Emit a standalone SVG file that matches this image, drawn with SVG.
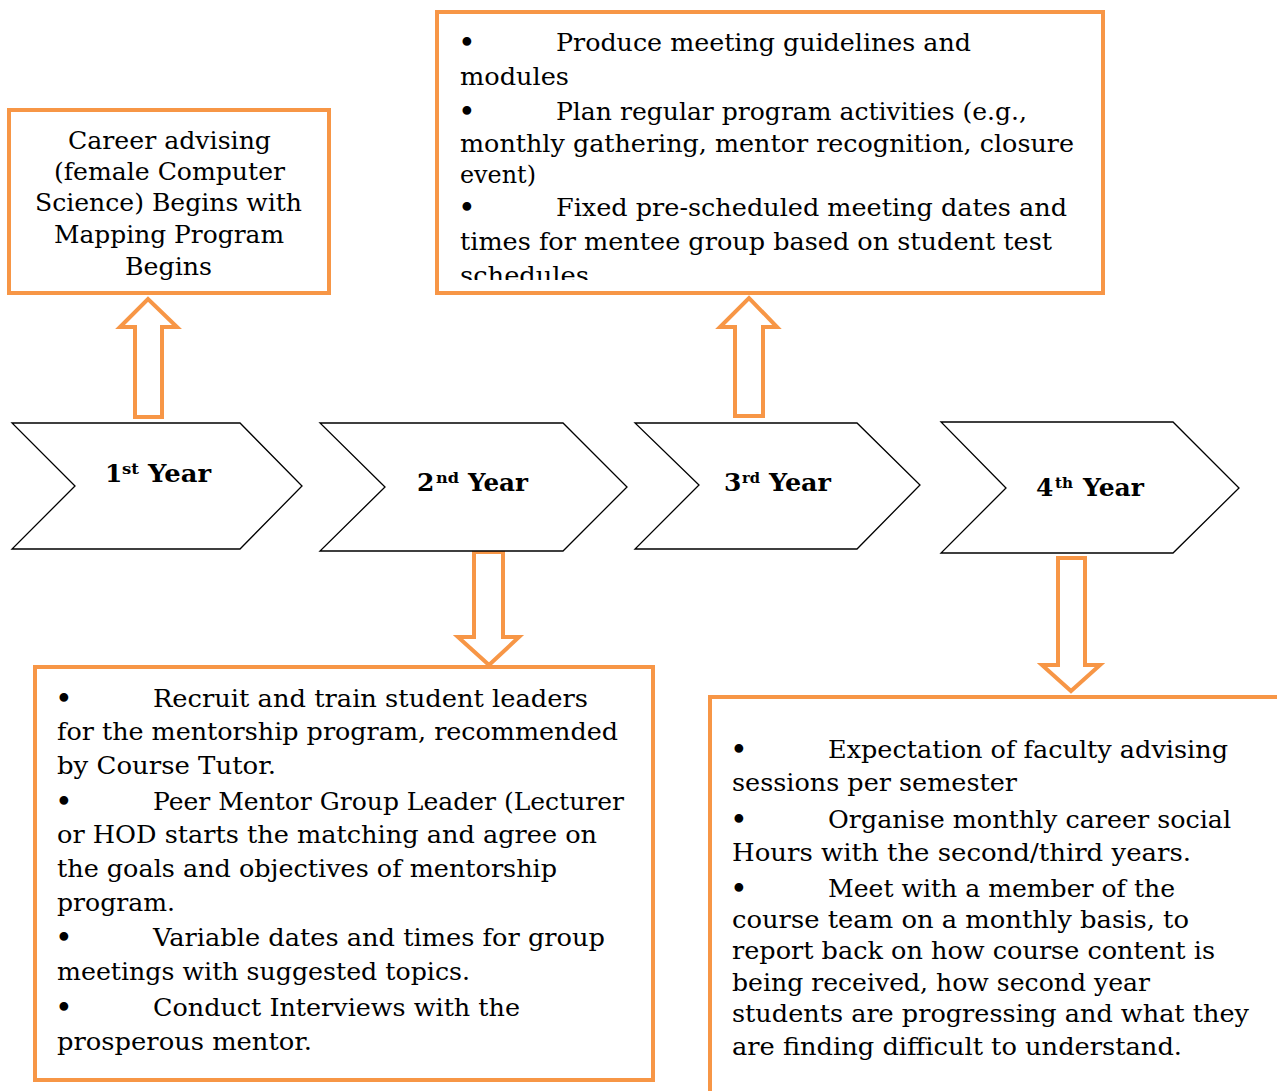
<svg xmlns="http://www.w3.org/2000/svg" width="1277" height="1091" viewBox="0 0 1277 1091">
<style>
.box{fill:#fff;stroke:#F79646;stroke-width:4}
.arr{fill:#fff;stroke:#F79646;stroke-width:4;stroke-linejoin:miter}
.chev{fill:#fff;stroke:#000;stroke-width:1.3}
.t{font-family:"DejaVu Serif","Liberation Serif",serif;font-size:24px;fill:#000}
.b{font-family:"DejaVu Serif","Liberation Serif",serif;font-size:30px;fill:#000}
.yr{font-family:"DejaVu Serif","Liberation Serif",serif;font-size:25px;font-weight:bold;fill:#000}
.sup{font-family:"DejaVu Serif","Liberation Serif",serif;font-size:15px;font-weight:bold;fill:#000}
</style>
<defs>
<clipPath id="c3"><rect x="437" y="12" width="666" height="268"/></clipPath>
</defs>
<rect width="1277" height="1091" fill="#fff"/>
<g id="connectors">
<path class="arr" d="M135,417 V327 H120 L148,299 L177,327 H162 V417 Z"/>
<path class="arr" d="M735,416 V327 H720 L749,298 L777,327 H763 V416 Z"/>
<path class="arr" d="M474,552 V637 H458 L489,665 L519,637 H503 V552 Z"/>
<path class="arr" d="M1058,558 V665 H1042 L1071,691 L1100,665 H1085 V558 Z"/>
</g>
<g id="year1">
<path class="chev" d="M12,423 H240 L302,486 L240,549 H12 L75,486 Z"/>
<text class="yr" x="105" y="482">1</text>
<text class="sup" x="122" y="474" textLength="17" lengthAdjust="spacingAndGlyphs">st</text>
<text class="yr" x="148" y="482" textLength="63" lengthAdjust="spacingAndGlyphs">Year</text>
</g>
<g id="year2">
<path class="chev" d="M320,423 H563 L627,487 L563,551 H320 L385,487 Z"/>
<text class="yr" x="417" y="491">2</text>
<text class="sup" x="436" y="483" textLength="23" lengthAdjust="spacingAndGlyphs">nd</text>
<text class="yr" x="468" y="491" textLength="60" lengthAdjust="spacingAndGlyphs">Year</text>
</g>
<g id="year3">
<path class="chev" d="M635,423 H857 L920,485 L857,549 H635 L699,485 Z"/>
<text class="yr" x="724" y="491">3</text>
<text class="sup" x="742" y="483" textLength="18" lengthAdjust="spacingAndGlyphs">rd</text>
<text class="yr" x="769" y="491" textLength="62" lengthAdjust="spacingAndGlyphs">Year</text>
</g>
<g id="year4">
<path class="chev" d="M941,422 H1173 L1239,488 L1173,553 H941 L1006,488 Z"/>
<text class="yr" x="1036" y="496">4</text>
<text class="sup" x="1055" y="488" textLength="18" lengthAdjust="spacingAndGlyphs">th</text>
<text class="yr" x="1083" y="496" textLength="61" lengthAdjust="spacingAndGlyphs">Year</text>
</g>
<g id="box1">
<rect class="box" x="9" y="110" width="320" height="183"/>
<text class="t" x="68" y="149" textLength="203" lengthAdjust="spacingAndGlyphs">Career advising</text>
<text class="t" x="54" y="180" textLength="231" lengthAdjust="spacingAndGlyphs">(female Computer</text>
<text class="t" x="35" y="211" textLength="267" lengthAdjust="spacingAndGlyphs">Science) Begins with</text>
<text class="t" x="54" y="243" textLength="230" lengthAdjust="spacingAndGlyphs">Mapping Program</text>
<text class="t" x="125" y="275" textLength="87" lengthAdjust="spacingAndGlyphs">Begins</text>
</g>
<g id="box3">
<rect class="box" x="437" y="12" width="666" height="281"/>
<g clip-path="url(#c3)">
<text class="b" x="458" y="53">•</text>
<text class="t" x="556" y="51" textLength="415" lengthAdjust="spacingAndGlyphs">Produce meeting guidelines and</text>
<text class="t" x="460" y="85" textLength="109" lengthAdjust="spacingAndGlyphs">modules</text>
<text class="b" x="458" y="122">•</text>
<text class="t" x="556" y="120" textLength="471" lengthAdjust="spacingAndGlyphs">Plan regular program activities (e.g.,</text>
<text class="t" x="460" y="152" textLength="614" lengthAdjust="spacingAndGlyphs">monthly gathering, mentor recognition, closure</text>
<text class="t" x="460" y="183" textLength="76" lengthAdjust="spacingAndGlyphs">event)</text>
<text class="b" x="458" y="218">•</text>
<text class="t" x="556" y="216" textLength="511" lengthAdjust="spacingAndGlyphs">Fixed pre-scheduled meeting dates and</text>
<text class="t" x="460" y="250" textLength="592" lengthAdjust="spacingAndGlyphs">times for mentee group based on student test</text>
<text class="t" x="460" y="284" textLength="129" lengthAdjust="spacingAndGlyphs">schedules</text>
</g>
</g>
<g id="box2">
<rect class="box" x="35" y="667" width="618" height="413"/>
<text class="b" x="55" y="709">•</text>
<text class="t" x="153" y="707" textLength="435" lengthAdjust="spacingAndGlyphs">Recruit and train student leaders</text>
<text class="t" x="57" y="740" textLength="561" lengthAdjust="spacingAndGlyphs">for the mentorship program, recommended</text>
<text class="t" x="57" y="774" textLength="219" lengthAdjust="spacingAndGlyphs">by Course Tutor.</text>
<text class="b" x="55" y="812">•</text>
<text class="t" x="153" y="810" textLength="471" lengthAdjust="spacingAndGlyphs">Peer Mentor Group Leader (Lecturer</text>
<text class="t" x="57" y="843" textLength="540" lengthAdjust="spacingAndGlyphs">or HOD starts the matching and agree on</text>
<text class="t" x="57" y="877" textLength="500" lengthAdjust="spacingAndGlyphs">the goals and objectives of mentorship</text>
<text class="t" x="57" y="911" textLength="118" lengthAdjust="spacingAndGlyphs">program.</text>
<text class="b" x="55" y="948">•</text>
<text class="t" x="153" y="946" textLength="452" lengthAdjust="spacingAndGlyphs">Variable dates and times for group</text>
<text class="t" x="57" y="980" textLength="413" lengthAdjust="spacingAndGlyphs">meetings with suggested topics.</text>
<text class="b" x="55" y="1018">•</text>
<text class="t" x="153" y="1016" textLength="367" lengthAdjust="spacingAndGlyphs">Conduct Interviews with the</text>
<text class="t" x="57" y="1050" textLength="255" lengthAdjust="spacingAndGlyphs">prosperous mentor.</text>
</g>
<g id="box4">
<rect class="box" x="710" y="697" width="600" height="420"/>
<text class="b" x="730" y="760">•</text>
<text class="t" x="828" y="758" textLength="400" lengthAdjust="spacingAndGlyphs">Expectation of faculty advising</text>
<text class="t" x="732" y="791" textLength="285" lengthAdjust="spacingAndGlyphs">sessions per semester</text>
<text class="b" x="730" y="830">•</text>
<text class="t" x="828" y="828" textLength="403" lengthAdjust="spacingAndGlyphs">Organise monthly career social</text>
<text class="t" x="732" y="861" textLength="459" lengthAdjust="spacingAndGlyphs">Hours with the second/third years.</text>
<text class="b" x="730" y="899">•</text>
<text class="t" x="828" y="897" textLength="347" lengthAdjust="spacingAndGlyphs">Meet with a member of the</text>
<text class="t" x="732" y="928" textLength="457" lengthAdjust="spacingAndGlyphs">course team on a monthly basis, to</text>
<text class="t" x="732" y="959" textLength="483" lengthAdjust="spacingAndGlyphs">report back on how course content is</text>
<text class="t" x="732" y="991" textLength="418" lengthAdjust="spacingAndGlyphs">being received, how second year</text>
<text class="t" x="732" y="1022" textLength="517" lengthAdjust="spacingAndGlyphs">students are progressing and what they</text>
<text class="t" x="732" y="1055" textLength="450" lengthAdjust="spacingAndGlyphs">are finding difficult to understand.</text>
</g>
</svg>
